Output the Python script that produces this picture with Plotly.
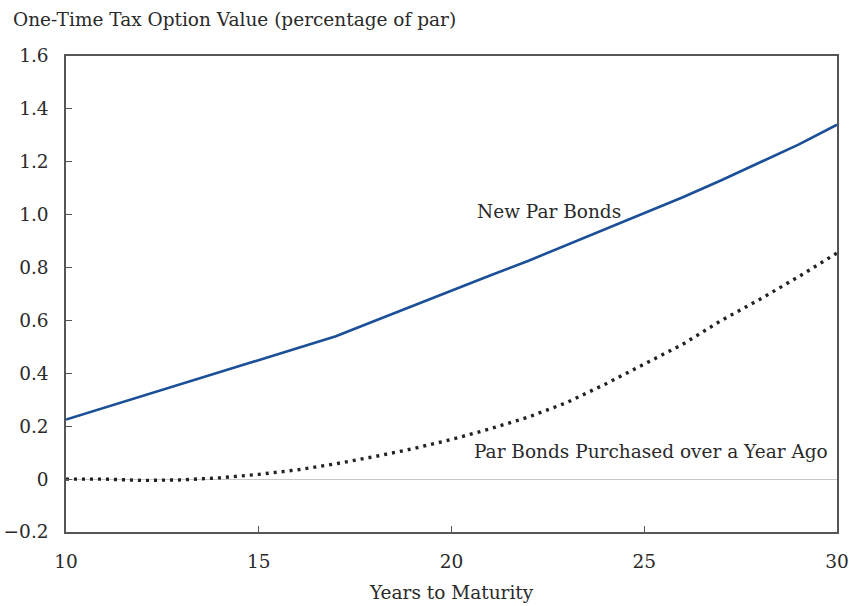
import plotly.graph_objects as go

years = [10, 11, 12, 13, 14, 15, 16, 17, 18, 19, 20, 21, 22, 23, 24, 25, 26, 27, 28, 29, 30]
new_par = [0.225, 0.27, 0.315, 0.36, 0.405, 0.45, 0.495, 0.54, 0.598, 0.656, 0.714, 0.77, 0.826, 0.886, 0.946, 1.006, 1.066, 1.13, 1.197, 1.265, 1.34]
old_par = [0.0, 0.0, -0.005, -0.003, 0.005, 0.018, 0.035, 0.058, 0.085, 0.115, 0.15, 0.19, 0.235, 0.29, 0.36, 0.435, 0.51, 0.6, 0.68, 0.765, 0.855]

y_ticks = [-0.2, 0, 0.2, 0.4, 0.6, 0.8, 1.0, 1.2, 1.4, 1.6]
y_labels = ["\u22120.2", "0", "0.2", "0.4", "0.6", "0.8", "1.0", "1.2", "1.4", "1.6"]
x_ticks = [10, 15, 20, 25, 30]

FONT = "DejaVu Serif"
TXT = "#2a2a2a"
FS = 18.5

fig = go.Figure()
fig.add_trace(go.Scatter(x=years, y=new_par, mode="lines",
                         line=dict(color="#1b4f98", width=2.6), showlegend=False))
fig.add_trace(go.Scatter(x=years, y=old_par, mode="lines",
                         line=dict(color="#222222", width=3.4, dash="3px,5px"), showlegend=False))

fig.update_layout(
    width=849, height=606,
    margin=dict(l=66, r=12, t=56, b=74),
    paper_bgcolor="white", plot_bgcolor="white",
    font=dict(family=FONT, size=FS, color=TXT),
    xaxis=dict(range=[10, 30], tickvals=x_ticks, ticks="inside", ticklen=6,
               tickcolor="#555", showgrid=False, zeroline=False, automargin=False,
               showline=True, linecolor="#555", linewidth=1.5, mirror=True,
               ticklabelstandoff=12, ticklabeloverflow="allow", tickfont=dict(size=FS)),
    yaxis=dict(range=[-0.2, 1.6], tickvals=y_ticks, ticktext=y_labels, automargin=False,
               ticks="inside", ticklen=6, tickcolor="#555", showgrid=False,
               zeroline=True, zerolinecolor="#c8c8c8", zerolinewidth=1,
               showline=True, linecolor="#555", linewidth=1.5, mirror=True,
               ticklabelstandoff=12, ticklabeloverflow="allow", tickfont=dict(size=FS)),
    annotations=[
        dict(text="One-Time Tax Option Value (percentage of par)", xref="paper", yref="paper",
             x=-0.071, y=1.05, xanchor="left", yanchor="bottom", showarrow=False,
             font=dict(size=FS)),
        dict(text="Years to Maturity", xref="paper", yref="paper",
             x=0.5, y=-0.128, xanchor="center", yanchor="middle", showarrow=False,
             font=dict(size=FS)),
        dict(text="New Par Bonds", x=22.53, y=1.013, xref="x", yref="y",
             showarrow=False, font=dict(size=FS)),
        dict(text="Par Bonds Purchased over a Year Ago", x=25.17, y=0.105, xref="x", yref="y",
             showarrow=False, font=dict(size=FS)),
    ],
)

fig.write_html("out.html", config={"displayModeBar": False},
               post_script="document.body.style.margin='0';document.body.style.overflow='hidden';")
